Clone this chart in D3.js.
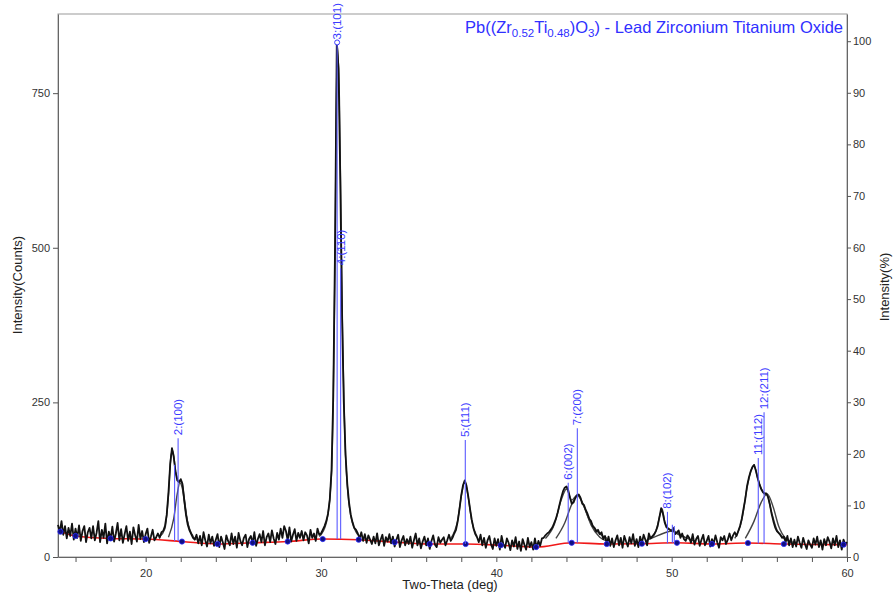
<!DOCTYPE html>
<html>
<head>
<meta charset="utf-8">
<script src="https://d3js.org/d3.v7.min.js"></script>
<style>
  body { margin: 0; background: #fff; }
  text { font-family: "Liberation Sans", Arial, sans-serif; }
</style>
</head>
<body>
<div id="chart"></div>
<script>
// scan: 15 -> 60 deg, step 0.1
var startAngle = 15, stepSize = 0.1;
var counts = [
  52, 40, 58, 36, 50, 30, 47, 34, 54, 28,
  46, 31, 51, 26, 42, 50, 24, 40, 47, 30,
  50, 27, 39, 58, 24, 44, 31, 54, 22, 41,
  29, 49, 25, 38, 55, 27, 45, 23, 37, 50,
  26, 41, 21, 48, 35, 25, 52, 29, 42, 24,
  37, 46, 23, 33, 44, 27, 32, 38, 31, 40,
  42, 50, 68, 104, 150, 176, 162, 138, 124, 121,
  126, 118, 92, 68, 52, 43, 37, 31, 28, 36,
  22, 34, 19, 40, 27, 17, 36, 22, 33, 18,
  28, 37, 16, 33, 24, 13, 35, 26, 19, 38,
  21, 33, 15, 39, 26, 19, 31, 36, 16, 29,
  34, 22, 40, 18, 29, 37, 24, 42, 19, 32,
  38, 24, 43, 30, 21, 39, 28, 46, 31, 50,
  42, 27, 48, 25, 36, 45, 26, 39, 31, 42,
  27, 40, 35, 22, 44, 31, 38, 26, 46, 36,
  38, 44, 50, 58, 70, 92, 140, 260, 500, 832,
  790, 610, 390, 250, 165, 118, 88, 68, 56, 47,
  44, 38, 30, 40, 26, 37, 23, 35, 28, 21,
  33, 22, 38, 19, 28, 36, 18, 32, 25, 37,
  22, 33, 17, 28, 36, 16, 27, 34, 19, 29,
  21, 33, 15, 27, 38, 19, 30, 14, 25, 33,
  19, 30, 13, 26, 35, 20, 16, 32, 23, 28,
  32, 19, 27, 36, 26, 31, 38, 44, 58, 78,
  100, 116, 124, 115, 98, 78, 60, 46, 37, 32,
  24, 36, 19, 31, 15, 27, 34, 20, 13, 30,
  18, 29, 12, 34, 21, 15, 30, 23, 11, 27,
  17, 32, 13, 25, 10, 29, 20, 12, 31, 16,
  24, 12, 30, 15, 26, 18, 30, 31, 35, 38,
  40, 44, 48, 55, 62, 72, 84, 96, 106, 112,
  114, 108, 96, 86, 88, 95, 100, 101, 96, 86,
  84, 76, 70, 62, 58, 50, 47, 41, 44, 37,
  40, 29, 34, 22, 33, 18, 30, 16, 27, 35,
  19, 31, 15, 34, 25, 17, 32, 22, 37, 18,
  29, 16, 33, 22, 36, 28, 19, 38, 30, 33,
  36, 42, 50, 64, 79, 70, 56, 48, 46, 44,
  42, 47, 37, 40, 43, 31, 38, 29, 26, 35,
  31, 23, 37, 20, 29, 34, 18, 28, 36, 19,
  26, 34, 17, 29, 22, 35, 24, 15, 32, 27,
  34, 21, 28, 38, 27, 35, 40, 34, 42, 50,
  62, 78, 94, 115, 128, 138, 145, 149, 140, 128,
  118, 110, 105, 102, 103, 97, 85, 70, 58, 48,
  42, 39, 36, 31, 33, 24, 34, 19, 30, 16,
  28, 17, 33, 23, 15, 31, 21, 13, 27, 20,
  15, 30, 20, 33, 16, 27, 12, 29, 19, 32,
  25, 14, 30, 19, 34, 16, 27, 12, 28, 21,
  24
];

// background points (red line + blue dots)
var bgAngle  = [15.14, 16.0, 18.0, 20.0, 22.07, 24.1, 26.1, 28.1, 30.1, 32.15, 34.2, 36.2, 38.25, 40.25, 42.27, 44.3, 46.3, 48.3, 50.3, 52.3, 54.35, 56.4, 59.8];
var bgCounts = [41, 34, 30, 29, 25, 21, 23, 25, 29, 28, 24, 21, 21, 19, 16, 23, 21, 21.5, 23, 21, 22.6, 21, 20];

// fitted profiles
var fitProfiles = [
  [[20.8,33],[21.1,46],[21.3,100],[21.45,165],[21.55,172],[21.7,140],[21.9,122],[22.05,122],[22.2,95],[22.4,55],[22.7,34]],
  [[21.3,32],[21.6,62],[21.8,102],[21.95,120],[22.1,110],[22.3,70],[22.6,38],[22.9,28]],
  [[29.9,33],[30.3,55],[30.6,135],[30.8,480],[30.92,830],[31.05,740],[31.2,420],[31.4,165],[31.7,66],[32.1,36]],
  [[37.4,30],[37.8,60],[38.0,98],[38.2,122],[38.4,96],[38.6,58],[38.9,33]],
  [[42.8,30],[43.3,52],[43.7,92],[44.0,110],[44.3,92],[44.6,100],[44.9,88],[45.3,60],[45.8,40],[46.3,30]],
  [[43.4,30],[43.9,55],[44.3,85],[44.65,100],[45.0,82],[45.4,52],[45.9,32],[46.3,26]],
  [[48.6,28],[49.1,42],[49.35,70],[49.45,78],[49.6,58],[49.8,46],[50.1,42],[50.4,36],[50.9,30]],
  [[48.5,26],[49.0,32],[49.5,38],[50.0,42],[50.4,38],[50.9,30],[51.4,25]],
  [[53.6,30],[54.0,60],[54.3,112],[54.55,142],[54.7,148],[54.9,128],[55.2,106],[55.45,100],[55.7,72],[56.0,44],[56.5,28]],
  [[54.2,30],[54.7,58],[55.1,88],[55.45,102],[55.8,80],[56.1,50],[56.5,30],[56.9,24]]
];

// peak markers
var peakAngle = [21.65, 21.85, 30.92, 31.12, 38.23, 44.1, 44.62, 49.76, 50.04, 50.15, 54.94, 55.27];
var peakTop   = [149, 192, 832, 467, 189, 120, 208, 73, 52, 50, 160, 234];
var peakBase  = [26, 26, 29, 29, 21, 23, 23, 22, 23, 23, 22, 22];
var peakLabel = ["", "2:(100)", "3:(101)", "4:(110)", "5:(111)", "6:(002)", "7:(200)", "8:(102)", "", "", "11:(112)", "12:(211)"];

var xTicks = d3.range(16, 61, 2);
var xTickLabels = [20, 30, 40, 50, 60];
var yTicks = [0, 250, 500, 750];
var pctTicks = d3.range(0, 101, 10);
var maxCount = 834, yMax = 878;

var W = 893, H = 595;
var plotLeft = 58, plotRight = 847, plotTop = 14, plotBottom = 557;

var svg = d3.select("#chart").append("svg")
    .attr("width", W)
    .attr("height", H);

var x = d3.scaleLinear().domain([15, 60]).range([plotLeft, plotRight]);
var y = d3.scaleLinear().domain([0, yMax]).range([plotBottom, plotTop]);
var yPct = d3.scaleLinear().domain([0, yMax / maxCount * 100]).range([plotBottom, plotTop]);

// frame
svg.append("rect")
    .attr("x", plotLeft).attr("y", plotTop)
    .attr("width", plotRight - plotLeft).attr("height", plotBottom - plotTop)
    .attr("fill", "none")
    .attr("stroke", "#999")
    .attr("stroke-width", 1);

// axes
var fmt = function (d) { return xTickLabels.indexOf(d) >= 0 ? d : ""; };
var gx = svg.append("g")
    .attr("transform", "translate(0," + plotBottom + ")")
    .call(d3.axisBottom(x).tickValues(xTicks).tickFormat(fmt).tickSize(5).tickSizeOuter(0));
var gy = svg.append("g")
    .attr("transform", "translate(" + plotLeft + ",0)")
    .call(d3.axisLeft(y).tickValues(yTicks).tickSize(5).tickSizeOuter(0));
var gr = svg.append("g")
    .attr("transform", "translate(" + plotRight + ",0)")
    .call(d3.axisRight(yPct).tickValues(pctTicks).tickSize(4).tickSizeOuter(0));

[gx, gy, gr].forEach(function (g) {
    g.select(".domain").attr("stroke", "#666");
    g.selectAll(".tick line").attr("stroke", "#555");
    g.selectAll(".tick text")
        .attr("fill", "#333")
        .attr("font-size", "11px")
        .attr("font-family", "Liberation Sans, Arial, sans-serif");
});
gx.selectAll(".tick text").attr("dy", "1.05em");
gr.selectAll(".tick text").attr("x", 6);

// axis titles
svg.append("text")
    .attr("x", 450).attr("y", 589)
    .attr("text-anchor", "middle")
    .attr("font-size", "13px")
    .attr("fill", "#222")
    .text("Two-Theta (deg)");
svg.append("text")
    .attr("transform", "translate(22,285) rotate(-90)")
    .attr("text-anchor", "middle")
    .attr("font-size", "13px")
    .attr("fill", "#222")
    .text("Intensity(Counts)");
svg.append("text")
    .attr("transform", "translate(889,287) rotate(-90)")
    .attr("text-anchor", "middle")
    .attr("font-size", "13px")
    .attr("fill", "#222")
    .text("Intensity(%)");

// background
var bgData = bgAngle.map(function (a, i) { return [a, bgCounts[i]]; });
var line = d3.line().x(function (d) { return x(d[0]); }).y(function (d) { return y(d[1]); });

svg.append("path")
    .datum([[15, 42]].concat(bgData).concat([[60, 20]]))
    .attr("d", line.curve(d3.curveMonotoneX))
    .attr("fill", "none")
    .attr("stroke", "#f01818")
    .attr("stroke-width", 1.6);

// fitted profiles
fitProfiles.forEach(function (p) {
    svg.append("path")
        .datum(p)
        .attr("d", line.curve(d3.curveMonotoneX))
        .attr("fill", "none")
        .attr("stroke", "#444")
        .attr("stroke-width", 1.4);
});

// observed pattern
var obs = counts.map(function (c, i) { return [startAngle + i * stepSize, c]; });
svg.append("path")
    .datum(obs)
    .attr("d", line.curve(d3.curveLinear))
    .attr("fill", "none")
    .attr("stroke", "#111")
    .attr("stroke-width", 1.8)
    .attr("stroke-linejoin", "round");

// background dots
svg.selectAll(".bgdot")
    .data(bgData)
    .enter().append("circle")
    .attr("class", "bgdot")
    .attr("cx", function (d) { return x(d[0]); })
    .attr("cy", function (d) { return y(d[1]); })
    .attr("r", 2.6)
    .attr("fill", "#101080")
    .attr("stroke", "#2a2aff")
    .attr("stroke-width", 0.8);

// peak markers
peakAngle.forEach(function (a, i) {
    svg.append("line")
        .attr("x1", x(a)).attr("x2", x(a))
        .attr("y1", y(peakBase[i])).attr("y2", y(peakTop[i]))
        .attr("stroke", "#5a5aff")
        .attr("stroke-width", 1.1);
    if (peakLabel[i] != "") {
        svg.append("text")
            .attr("transform", "translate(" + (x(a) + 1) + "," + (y(peakTop[i]) - 3) + ") rotate(-90)")
            .attr("dominant-baseline", "middle")
            .attr("font-size", "11.5px")
            .attr("fill", "#3c3cff")
            .text(peakLabel[i]);
    }
});
// marker circle on the strongest line
svg.append("circle")
    .attr("cx", x(peakAngle[2]))
    .attr("cy", y(peakTop[2]))
    .attr("r", 2.5)
    .attr("fill", "#fff")
    .attr("stroke", "#3c3cff")
    .attr("stroke-width", 1);

// title
var title = svg.append("text")
    .attr("x", 843).attr("y", 33)
    .attr("text-anchor", "end")
    .attr("font-size", "16.5px")
    .attr("fill", "#3030ff");
title.append("tspan").text("Pb((Zr");
title.append("tspan").attr("dy", 3.5).attr("font-size", "11.5px").text("0.52");
title.append("tspan").attr("dy", -3.5).text("Ti");
title.append("tspan").attr("dy", 3.5).attr("font-size", "11.5px").text("0.48");
title.append("tspan").attr("dy", -3.5).text(")O");
title.append("tspan").attr("dy", 3.5).attr("font-size", "11.5px").text("3");
title.append("tspan").attr("dy", -3.5).text(") - Lead Zirconium Titanium Oxide");
</script>
</body>
</html>
